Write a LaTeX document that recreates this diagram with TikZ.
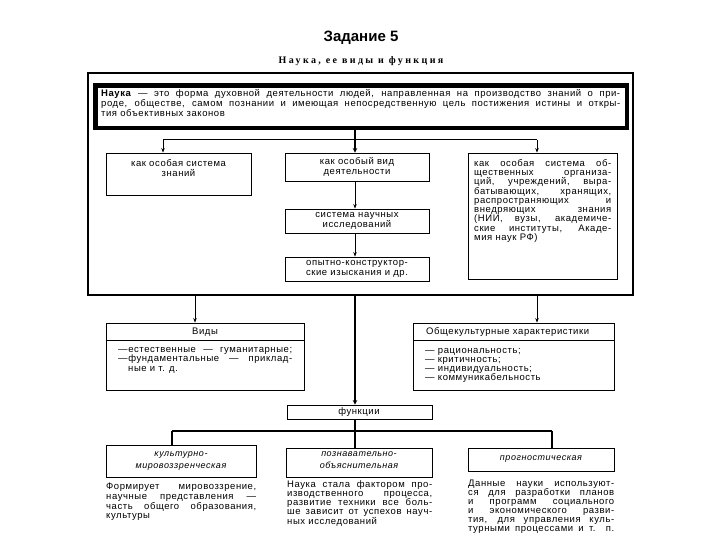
\documentclass[tikz,border=0pt]{standalone}
\usepackage{fontspec}
\setmainfont{Liberation Sans}
\newfontfamily\tfam[LetterSpace=6]{Liberation Sans}
\newfontfamily\subfam[LetterSpace=24]{Liberation Serif}
\usetikzlibrary{arrows.meta,fit}
\newcommand{\jl}[2]{\makebox[#1][s]{#2}}
\begin{document}
\begin{tikzpicture}[x=1pt,y=-1pt,
  box/.style={draw, line width=0.9pt, inner sep=0pt},
  arr/.style={-{Stealth[length=4.5pt,width=3.6pt]}, line width=0.9pt},
  thk/.style={line width=2.2pt},
  txt/.style={inner sep=0pt, font=\tfam\fontsize{9.5}{10}\selectfont, align=center},
  txtl/.style={inner sep=0pt, font=\tfam\fontsize{9.5}{9.5}\selectfont, align=left, anchor=north west},
  itx/.style={inner sep=0pt, font=\tfam\itshape\fontsize{9}{12.5}\selectfont, align=center}]
\useasboundingbox (0,0) rectangle (720,540);

% titles
\node[inner sep=0pt, font=\bfseries\fontsize{15}{17}\selectfont] (title) at (361,38) {Задание 5};
\node[inner sep=0pt, font=\subfam\bfseries\fontsize{10}{12}\selectfont] (subtitle) at (361,61) {Наука, ее виды и функция};

% outer frame and definition box
\node[box, line width=1.3pt, fit={(88,73) (633,295)}] (outer) {};
\node[draw, line width=3.2pt, inner sep=0pt, fit={(95,85) (627,128)}] (def) {};
\draw[line width=0.6pt] ([shift={(3.6,3.6)}]def.north west) rectangle ([shift={(-3.6,-3.6)}]def.south east);
\node[txtl, font=\tfam\fontsize{9.5}{10}\selectfont] (deftext) at (101,89) {%
\jl{519pt}{\textbf{Наука} — это форма духовной деятельности людей, направленная на производство знаний о при-}\\
\jl{519pt}{роде, обществе, самом познании и имеющая непосредственную цель постижения истины и откры-}\\
тия объективных законов};

% first row boxes
\node[box, fit={(106,153) (251,195)}] (L1) {};
\node[txt, anchor=north] (L1t) at (178.5,159) {как особая система\\знаний};
\node[box, fit={(285,153) (429,181)}] (M1) {};
\node[txt, anchor=north] (M1t) at (357,157) {как особый вид\\деятельности};
\node[box, fit={(285,209) (429,233)}] (M2) {};
\node[txt, anchor=north] (M2t) at (357,212) {система научных\\исследований};
\node[box, fit={(285,257) (429,281)}] (M3) {};
\node[txt, anchor=north] (M3t) at (357,260) {опытно-конструктор-\\ские изыскания и др.};
\node[box, fit={(468,153) (617,279)}] (R1) {};
\node[txtl, font=\tfam\fontsize{9.5}{9.3}\selectfont] (R1t) at (474,159) {%
\jl{137pt}{как особая система об-}\\
\jl{137pt}{щественных организа-}\\
\jl{137pt}{ций, учреждений, выра-}\\
\jl{137pt}{батывающих, хранящих,}\\
\jl{137pt}{распространяющих и}\\
\jl{137pt}{внедряющих знания}\\
\jl{137pt}{(НИИ, вузы, академиче-}\\
\jl{137pt}{ские институты, Акаде-}\\
мия наук РФ)};

% connectors of the upper part
\coordinate (cx) at (355,0);
\coordinate (lx) at (163,0);
\coordinate (rx) at (537,0);
\coordinate (vx) at (195,0);
\coordinate (br) at (0,140);
\draw[thk] (def.south -| cx) -- (br -| cx);
\draw[line width=1pt] (br -| lx) -- (br -| rx);
\draw[arr] (br -| lx) -- (L1.north -| lx);
\draw[arr, line width=2.2pt, -{Stealth[length=4.5pt,width=4.5pt]}] (br -| cx) -- (M1.north -| cx);
\draw[arr] (br -| rx) -- (R1.north -| rx);
\draw[arr] (M1.south -| cx) -- (M2.north -| cx);
\draw[arr] (M2.south -| cx) -- (M3.north -| cx);

% kinds and characteristics
\node[box, fit={(106,323) (304,390)}] (V) {};
\draw[line width=0.9pt] (106,340) -- (304,340);
\node[txt] (Vt) at (205,332) {Виды};
\node[txtl] (Vi) at (118,347) {%
\jl{174pt}{—естественные — гуманитарные;}\\
\jl{174pt}{—фундаментальные — приклад-}\\
\hspace*{10pt}ные и т. д.};
\node[box, fit={(413,323) (614,390)}] (O) {};
\draw[line width=0.9pt] (413,340) -- (614,340);
\node[txt, anchor=west] (Ot) at (426,332) {Общекультурные характеристики};
\node[txtl, font=\tfam\fontsize{9.5}{9}\selectfont] (Oi) at (425,348) {%
— рациональность;\\
— критичность;\\
— индивидуальность;\\
— коммуникабельность};

\draw[arr] (outer.south -| vx) -- (V.north -| vx);
\draw[arr] (outer.south -| rx) -- (O.north -| rx);

% functions
\node[box, fit={(287,405) (432,419)}] (F) {};
\node[txt] (Ft) at (359,412) {функции};
\draw[thk, -{Stealth[length=4.5pt,width=4.5pt]}] (outer.south -| cx) -- (F.north -| cx);

\node[box, fit={(106,445) (256,477)}] (K) {};
\node[itx, anchor=north] (Kt) at (181,451) {культурно-\\мировоззренческая};
\node[box, fit={(286,448) (432,477)}] (P) {};
\node[itx, anchor=north] (Pt) at (359,451) {познавательно-\\объяснительная};
\node[box, fit={(468,448) (614,471)}] (G) {};
\node[itx] (Gt) at (541,459) {прогностическая};

\coordinate (kx) at (172,0);
\coordinate (gx) at (552,0);
\coordinate (hl) at (0,431);
\draw[thk] (F.south -| cx) -- (P.north -| cx);
\draw[thk] (hl -| kx) -- (hl -| gx);
\draw[thk] (hl -| kx) -- (K.north -| kx);
\draw[thk] (hl -| gx) -- (G.north -| gx);

% descriptions
\node[txtl, font=\tfam\fontsize{9.5}{9.7}\selectfont] (Kd) at (106,483) {%
\jl{150pt}{Формирует мировоззрение,}\\
\jl{150pt}{научные представления —}\\
\jl{150pt}{часть общего образования,}\\
культуры};
\node[txtl, font=\tfam\fontsize{9.5}{9}\selectfont] (Pd) at (287,480) {%
\jl{145pt}{Наука стала фактором про-}\\
\jl{145pt}{изводственного процесса,}\\
\jl{145pt}{развитие техники все боль-}\\
\jl{145pt}{ше зависит от успехов науч-}\\
ных исследований};
\node[txtl, font=\tfam\fontsize{9.5}{9}\selectfont] (Gd) at (468,480) {%
\jl{146pt}{Данные науки используют-}\\
\jl{146pt}{ся для разработки планов}\\
\jl{146pt}{и программ социального}\\
\jl{146pt}{и экономического разви-}\\
\jl{146pt}{тия, для управления куль-}\\
\jl{146pt}{турными процессами и т. п.}};
\end{tikzpicture}
\end{document}
